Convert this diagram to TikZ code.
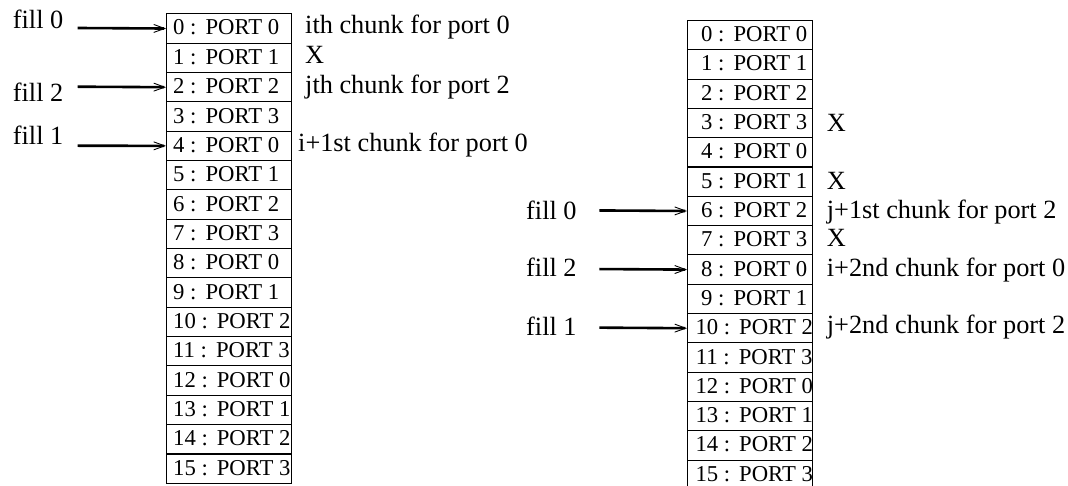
\documentclass[tikz,border=0pt]{standalone}
\usepackage{fontspec}
\setmainfont{Liberation Serif}
\usetikzlibrary{arrows.meta}
\begin{document}
\begin{tikzpicture}[x=1pt,y=-1pt,
  lbl/.style={font=\fontsize{26.3}{29}\selectfont, anchor=base west, inner sep=0pt},
  celltxt/.style={font=\fontsize{22.7}{26}\selectfont, inner sep=0pt},
  cell/.style={draw, line width=1.1pt, minimum width=125pt, minimum height=29.34pt, inner sep=0pt, anchor=north west},
  ptr/.style={line width=2.6pt, -{Straight Barb[length=11pt,width=8pt,line width=0.9pt]}}
]
\useasboundingbox (0,0) rectangle (1068,486);
% stack texts
\foreach \i in {0,...,15}{
  \pgfmathtruncatemacro{\p}{mod(\i,4)}
  \node[celltxt, anchor=base west] (tL\i) at (173, {13.3+\i*29.34+21.7}) {\i\ :\hspace{9pt}PORT~\p};
  \node[celltxt, anchor=base] (tR\i) at (754.2, {20+\i*29.3+21.7}) {\i\ :\hspace{9pt}PORT~\p};
}
% stack cells
\foreach \i in {0,...,15}{
  \node[cell] (L\i) at (166, {13.3+\i*29.34}) {};
  \node[cell, minimum height=29.3pt] (R\i) at (687, {20+\i*29.3}) {};
}
% left labels
\node[lbl] (fL0) at (12.7, 28.3) {fill 0};
\node[lbl] (fL2) at (12.7, 101.7) {fill 2};
\node[lbl] (fL1) at (12.7, 145) {fill 1};
\coordinate (sL0) at (77.7, 28);
\coordinate (sL2) at (77.7, 86.7);
\coordinate (sL1) at (77.7, 145.7);
\draw[ptr] (sL0) -- (L0.west);
\draw[ptr] (sL2) -- (L2.west);
\draw[ptr] (sL1) -- (L4.west);
\node[lbl] (cL0) at (305, 33.3) {ith chunk for port 0};
\node[lbl] (cL1) at (305, 63.3) {X};
\node[lbl] (cL2) at (305, 93.3) {jth chunk for port 2};
\node[lbl] (cL4) at (298, 151.7) {i+1st chunk for port 0};
% right labels
\node[lbl] (fR0) at (526, 219.3) {fill 0};
\node[lbl] (fR2) at (526, 276.7) {fill 2};
\node[lbl] (fR1) at (526, 335) {fill 1};
\coordinate (sR0) at (599.3, 210.45);
\coordinate (sR2) at (599.3, 269.05);
\coordinate (sR1) at (599.3, 327.65);
\draw[ptr] (sR0) -- (R6.west);
\draw[ptr] (sR2) -- (R8.west);
\draw[ptr] (sR1) -- (R10.west);
\node[lbl] (cR3) at (826.7, 131.7) {X};
\node[lbl] (cR5) at (826.7, 189.3) {X};
\node[lbl] (cR6) at (826.7, 218.3) {j+1st chunk for port 2};
\node[lbl] (cR7) at (826.7, 246.7) {X};
\node[lbl] (cR8) at (826.7, 276.7) {i+2nd chunk for port 0};
\node[lbl] (cR10) at (826.7, 333.3) {j+2nd chunk for port 2};
\end{tikzpicture}
\end{document}
